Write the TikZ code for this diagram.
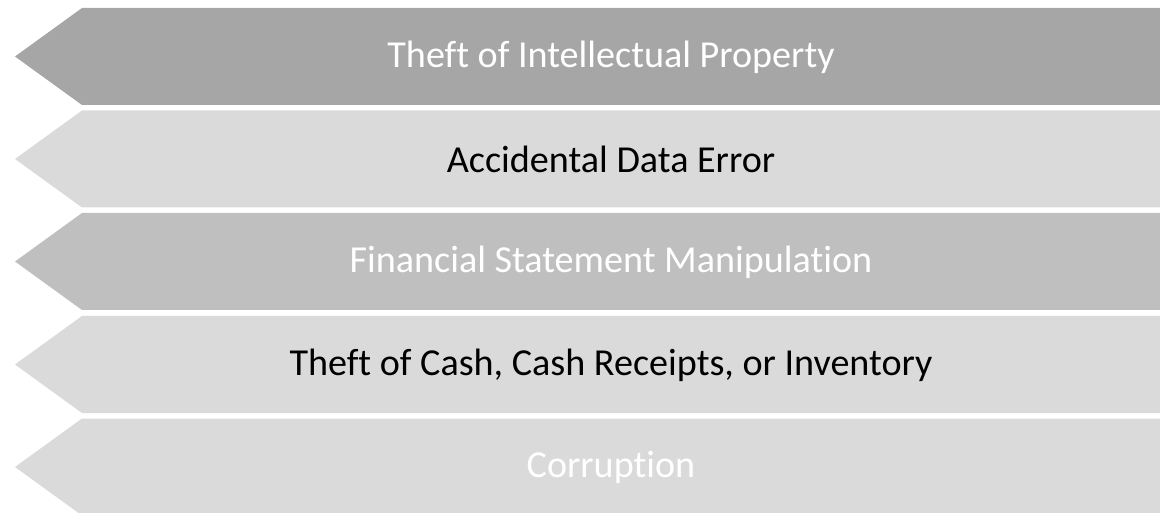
\documentclass[tikz,border=0pt]{standalone}
\usepackage{fontspec}
\setmainfont[Ligatures={NoCommon}]{Carlito}
\definecolor{bandA}{HTML}{A6A6A6}
\definecolor{bandB}{HTML}{DADADA}
\definecolor{bandC}{HTML}{BFBFBF}
\begin{document}
\begin{tikzpicture}[x=0.75pt,y=-0.75pt,
  lbl/.style={font=\fontsize{28.6}{34}\selectfont,anchor=center,inner sep=0pt}]
\useasboundingbox (0,0) rectangle (1160,513);
% band 1
\fill[bandA] (15,56.5) -- (82,8) -- (1160,8) -- (1160,105) -- (82,105) -- cycle;
\node[lbl,text=white] (t1) at (611,57) {Theft of Intellectual Property};
% band 2
\fill[bandB] (15,159) -- (82,110.5) -- (1160,110.5) -- (1160,207.5) -- (82,207.5) -- cycle;
\node[lbl,text=black] (t2) at (611,159.5) {Accidental Data Error};
% band 3
\fill[bandC] (15,261.5) -- (82,213) -- (1160,213) -- (1160,310) -- (82,310) -- cycle;
\node[lbl,text=white] (t3) at (611,262) {Financial Statement Manipulation};
% band 4
\fill[bandB] (15,364.5) -- (82,316) -- (1160,316) -- (1160,413) -- (82,413) -- cycle;
\node[lbl,text=black] (t4) at (611,365) {Theft of Cash, Cash Receipts, or Inventory};
% band 5
\fill[bandB] (15,467) -- (82,418.5) -- (1160,418.5) -- (1160,515.5) -- (82,515.5) -- cycle;
\node[lbl,text=white] (t5) at (611,467.5) {Corruption};
\end{tikzpicture}
\end{document}
